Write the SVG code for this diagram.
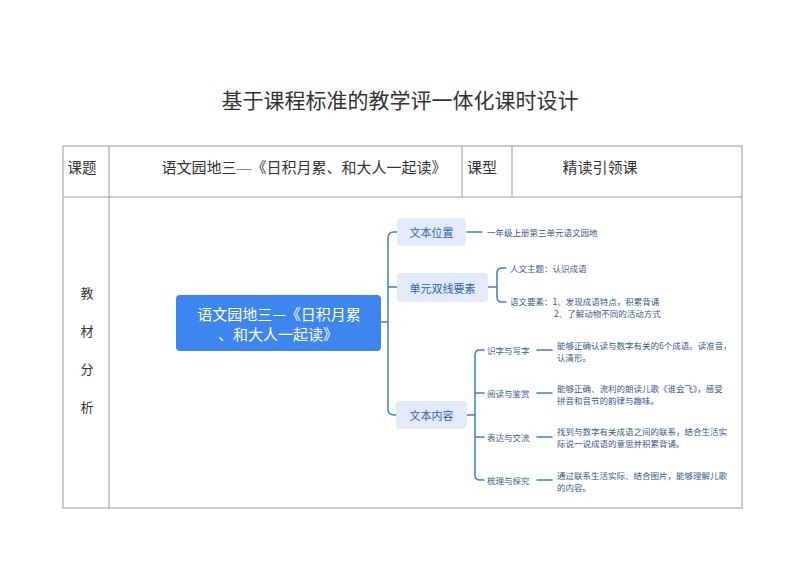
<svg xmlns="http://www.w3.org/2000/svg" width="800" height="566" viewBox="0 0 800 566">
<style>
.tl{stroke:#9a9a9a;stroke-width:1;fill:none}
.ser{font-family:"Liberation Serif","Noto Sans CJK SC",serif;fill:#333}
.sans{font-family:"Noto Sans CJK SC","Liberation Sans",sans-serif}
.con{stroke:#3b7ed8;stroke-width:1.5;fill:none;stroke-linecap:round}
.br rect{fill:#e2eafb}
.br text{fill:#2f63b8;font-size:11px}
.lf{fill:#38598f;font-size:8.5px}
</style>
<rect width="800" height="566" fill="#fff"/>
<text class="ser" x="400" y="101" font-size="21" text-anchor="middle" dominant-baseline="central" fill="#222">基于课程标准的教学评一体化课时设计</text>
<g id="table">
<rect class="tl" x="63" y="146" width="679" height="362"/>
<line class="tl" x1="63" y1="197" x2="742" y2="197"/>
<line class="tl" x1="109" y1="146" x2="109" y2="508"/>
<line class="tl" x1="462" y1="146" x2="462" y2="197"/>
<line class="tl" x1="512" y1="146" x2="512" y2="197"/>
<g class="ser" font-size="14.5" dominant-baseline="central">
<text x="82" y="168" text-anchor="middle" dominant-baseline="central">课题</text>
<text x="304" y="168" text-anchor="middle" dominant-baseline="central" font-size="15">语文园地三—《日积月累、和大人一起读》</text>
<text x="482" y="168" text-anchor="middle" dominant-baseline="central" font-size="15">课型</text>
<text x="600" y="168" text-anchor="middle" dominant-baseline="central" font-size="15">精读引领课</text>
<text x="87" y="293" text-anchor="middle" dominant-baseline="central" font-size="13">教</text>
<text x="87" y="331" text-anchor="middle" dominant-baseline="central" font-size="13">材</text>
<text x="87" y="369" text-anchor="middle" dominant-baseline="central" font-size="13">分</text>
<text x="87" y="407" text-anchor="middle" dominant-baseline="central" font-size="13">析</text>
</g>
</g>
<g id="connectors">
<path class="con" d="M381,322 H388 M397,232 H394 Q388,232 388,238 V409 Q388,415 394,415 H396 M388,287 H397"/>
<path class="con" d="M467,232 H482"/>
<path class="con" d="M488,287 H497 M506,268 H502 Q497,268 497,273 V297 Q497,302 502,302 H506"/>
<path class="con" d="M467,415 H475 M484,350 H480 Q475,350 475,355 V475 Q475,480 480,480 H484 M475,393 H484 M475,437 H484"/>
<path class="con" d="M537,350 H552 M537,393 H552 M537,437 H552 M537,480 H552"/>
</g>
<g id="center" class="sans">
<rect x="176" y="295" width="205" height="56" rx="4" fill="#3e86ef"/>
<text x="279" y="313" font-size="15" fill="#fff" text-anchor="middle" dominant-baseline="central">语文园地三—《日积月累</text>
<text x="278" y="333" font-size="15" fill="#fff" text-anchor="middle" dominant-baseline="central">、和大人一起读》</text>
</g>
<g id="n-weizhi" class="br sans">
<rect x="397" y="218" width="69" height="28" rx="4"/>
<text x="431.5" y="232" text-anchor="middle" dominant-baseline="central">文本位置</text>
</g>
<g id="n-yaosu" class="br sans">
<rect x="397" y="273" width="91" height="29" rx="4"/>
<text x="442.5" y="287.5" text-anchor="middle" dominant-baseline="central">单元双线要素</text>
</g>
<g id="n-neirong" class="br sans">
<rect x="396" y="401" width="71" height="28" rx="4"/>
<text x="431.5" y="415" text-anchor="middle" dominant-baseline="central">文本内容</text>
</g>
<g id="leaves" class="sans lf" dominant-baseline="central">
<text x="487" y="232" dominant-baseline="central">一年级上册第三单元语文园地</text>
<text x="510" y="268" dominant-baseline="central">人文主题：认识成语</text>
<text x="510" y="301" dominant-baseline="central">语文要素：1、发现成语特点，积累背诵</text>
<text x="554" y="313" dominant-baseline="central">2、了解动物不同的活动方式</text>
<text x="487" y="350" dominant-baseline="central">识字与写字</text>
<text x="487" y="393" dominant-baseline="central">阅读与鉴赏</text>
<text x="487" y="437" dominant-baseline="central">表达与交流</text>
<text x="487" y="480" dominant-baseline="central">梳理与探究</text>
<text x="557" y="345" dominant-baseline="central">能够正确认读与数字有关的6个成语。读准音，</text>
<text x="557" y="357" dominant-baseline="central">认清形。</text>
<text x="557" y="388" dominant-baseline="central">能够正确、流利的朗读儿歌《谁会飞》，感受</text>
<text x="557" y="400" dominant-baseline="central">拼音和音节的韵律与趣味。</text>
<text x="557" y="431" dominant-baseline="central">找到与数字有关成语之间的联系，结合生活实</text>
<text x="557" y="443" dominant-baseline="central">际说一说成语的意思并积累背诵。</text>
<text x="557" y="475" dominant-baseline="central">通过联系生活实际、结合图片，能够理解儿歌</text>
<text x="557" y="487" dominant-baseline="central">的内容。</text>
</g>
</svg>
